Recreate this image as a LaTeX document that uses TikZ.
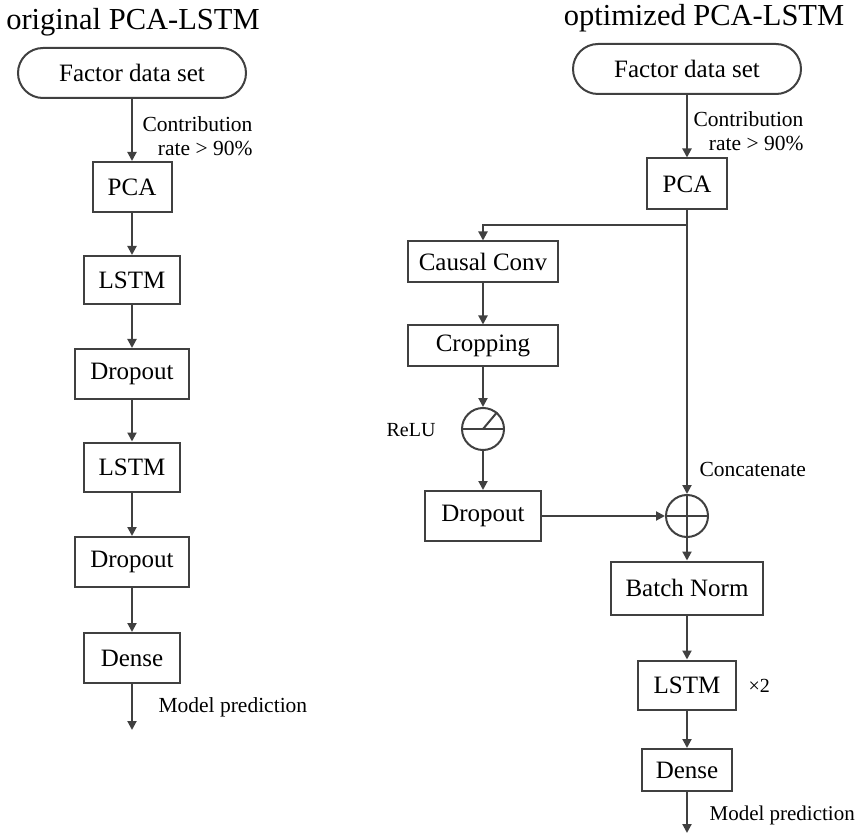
\documentclass[tikz,border=0pt]{standalone}
\usepackage{fontspec}
\setmainfont{Liberation Serif}
\usetikzlibrary{arrows.meta}

\definecolor{linegray}{HTML}{404040}

\tikzset{
  blk/.style={draw=linegray, line width=2pt, inner sep=0pt, font=\fontsize{25}{29}\selectfont},
  start/.style={blk, rounded corners=25pt, minimum width=228pt, minimum height=50pt},
  opnode/.style={draw=linegray, line width=2pt, circle, inner sep=0pt, minimum size=42pt},
  lbl/.style={font=\fontsize{21.5}{24}\selectfont},
  ttl/.style={font=\fontsize{30.5}{34}\selectfont},
  arr/.style={draw=linegray, line width=2pt, -{Triangle[length=9pt,width=9pt]}},
  ln/.style={draw=linegray, line width=2pt}
}

\begin{document}
\begin{tikzpicture}[x=1pt, y=-1pt]
\useasboundingbox (0,0) rectangle (857,834);

% original PCA-LSTM
\node[ttl] (title1) at (133,22) {original PCA-LSTM};
\node[start] (data1) at (132,73) {Factor data set};
\node[blk, minimum width=79pt, minimum height=50pt] (pca1) at (132,187) {PCA};
\node[blk, minimum width=96pt, minimum height=48pt] (lstm1) at (132,280) {LSTM};
\node[blk, minimum width=114pt, minimum height=50pt] (drop1) at (132,374) {Dropout};
\node[blk, minimum width=96pt, minimum height=49pt] (lstm2) at (132,467) {LSTM};
\node[blk, minimum width=114pt, minimum height=50pt] (drop2) at (132,562) {Dropout};
\node[blk, minimum width=96pt, minimum height=50pt] (dense1) at (132,658) {Dense};
\coordinate (out1) at (132,730);
\node[lbl, align=right, anchor=east] (rate1) at (256,136) {Contribution\\rate > 90\%};
\node[lbl, anchor=west] (pred1) at (155,707) {Model prediction};

\draw[arr] (data1) -- (pca1);
\draw[arr] (pca1) -- (lstm1);
\draw[arr] (lstm1) -- (drop1);
\draw[arr] (drop1) -- (lstm2);
\draw[arr] (lstm2) -- (drop2);
\draw[arr] (drop2) -- (dense1);
\draw[arr] (dense1) -- (out1);

% optimized PCA-LSTM
\node[ttl] (title2) at (704,18) {optimized PCA-LSTM};
\node[start] (data2) at (687,69) {Factor data set};
\node[blk, minimum width=80pt, minimum height=51pt] (pca2) at (687,184) {PCA};
\coordinate (split) at (687,225);
\node[blk, minimum width=150pt, minimum height=41pt] (conv) at (483,262) {Causal Conv};
\node[blk, minimum width=150pt, minimum height=41pt] (crop) at (483,346) {Cropping};
\node[opnode] (relu) at (483,429) {};
\node[blk, minimum width=116pt, minimum height=50pt] (drop3) at (483,516) {Dropout};
\node[opnode] (plus) at (687,516) {};
\node[blk, minimum width=152pt, minimum height=53pt] (bn) at (687,588) {Batch Norm};
\node[blk, minimum width=98pt, minimum height=49pt] (lstm3) at (687,685) {LSTM};
\node[blk, minimum width=90pt, minimum height=42pt] (dense2) at (687,770) {Dense};
\coordinate (out2) at (687,833);
\node[lbl, align=right, anchor=east] (rate2) at (807,131) {Contribution\\rate > 90\%};
\node[lbl, font=\fontsize{20}{24}\selectfont, anchor=east] (relulbl) at (439,430) {ReLU};
\node[lbl, anchor=west] (concat) at (696,469) {Concatenate};
\node[lbl, font=\fontsize{20}{24}\selectfont, anchor=west] (rep) at (745,686) {×2};
\node[lbl, font=\fontsize{21}{24}\selectfont, anchor=east, inner xsep=1pt] (pred2) at (856,815) {Model prediction};

\draw[ln] (relu.west) -- (relu.east);
\draw[ln] (relu.center) -- (relu.50);
\draw[ln] (plus.north) -- (plus.south);
\draw[ln] (plus.west) -- (plus.east);

\draw[arr] (data2) -- (pca2);
\draw[ln] (pca2) -- (split);
\draw[arr] (split) -| (conv);
\draw[arr] (split) -- (plus);
\draw[arr] (conv) -- (crop);
\draw[arr] (crop) -- (relu);
\draw[arr] (relu) -- (drop3);
\draw[arr] (drop3) -- (plus);
\draw[arr] (plus) -- (bn);
\draw[arr] (bn) -- (lstm3);
\draw[arr] (lstm3) -- (dense2);
\draw[arr] (dense2) -- (out2);
\end{tikzpicture}
\end{document}
